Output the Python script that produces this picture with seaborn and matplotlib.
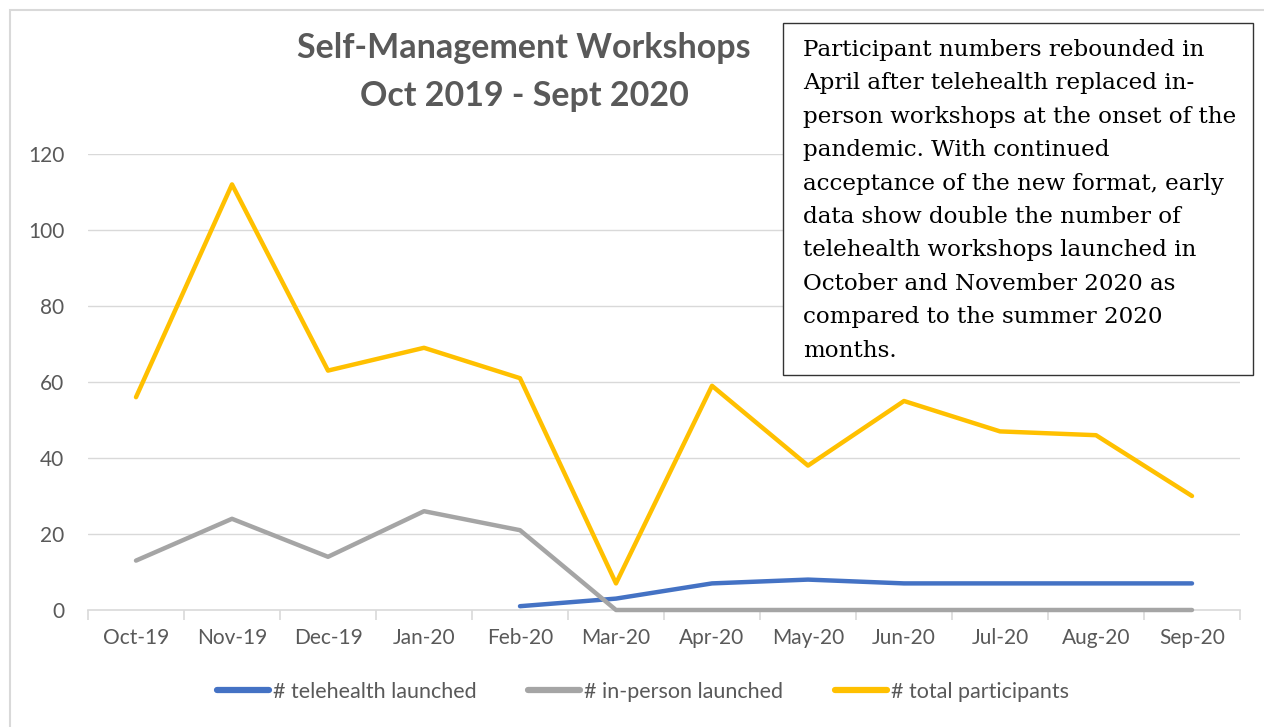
import numpy as np
import pandas as pd
import matplotlib
matplotlib.use("Agg")
import matplotlib.pyplot as plt
import matplotlib.patches as mpatches
import seaborn as sns

months = ["Oct-19", "Nov-19", "Dec-19", "Jan-20", "Feb-20", "Mar-20",
          "Apr-20", "May-20", "Jun-20", "Jul-20", "Aug-20", "Sep-20"]
telehealth = [np.nan, np.nan, np.nan, np.nan, 1, 3, 7, 8, 7, 7, 7, 7]
in_person = [13, 24, 14, 26, 21, 0, 0, 0, 0, 0, 0, 0]
total = [56, 112, 63, 69, 61, 7, 59, 38, 55, 47, 46, 30]
series_names = ["# telehealth launched", "# in-person launched", "# total participants"]
colors = ["#4472C4", "#A5A5A5", "#FFC000"]
y_ticks = [0, 20, 40, 60, 80, 100, 120]

title = "Self-Management Workshops\nOct 2019 - Sept 2020"
note = ("Participant numbers rebounded in\n"
        "April after telehealth replaced in-\n"
        "person workshops at the onset of the\n"
        "pandemic. With continued\n"
        "acceptance of the new format, early\n"
        "data show double the number of\n"
        "telehealth workshops launched in\n"
        "October and November 2020 as\n"
        "compared to the summer 2020\n"
        "months.")

sns.set_theme(style="white")
plt.rcParams['font.family'] = ['Lato', 'DejaVu Sans']

W, H = 1264, 727
fig = plt.figure(figsize=(W / 100, H / 100), dpi=100)
ax = fig.add_axes([88 / W, (H - 610) / H, (1240 - 88) / W, (610 - 154) / H])

df = pd.DataFrame({"x": np.arange(len(months)), series_names[0]: telehealth,
                   series_names[1]: in_person, series_names[2]: total})
for name, c in zip(series_names, colors):
    sub = df[["x", name]].dropna()
    sns.lineplot(data=sub, x="x", y=name, ax=ax, color=c, linewidth=3.2,
                 label=name, solid_capstyle="round", solid_joinstyle="round",
                 clip_on=False, zorder=4)

ax.set_xlim(-0.5, len(months) - 0.5)
ax.set_ylim(0, 120)
ax.set_yticks(y_ticks)
ax.set_yticklabels([str(v) for v in y_ticks])
ax.set_xticks(range(len(months)))
ax.set_xticklabels(months)
ax.set_xlabel("")
ax.set_ylabel("")
for v in y_ticks[1:]:
    ax.axhline(v, color="#D9D9D9", lw=1.0, zorder=0)
for s in ["top", "right", "left"]:
    ax.spines[s].set_visible(False)
ax.spines["bottom"].set_color("#D9D9D9")
ax.spines["bottom"].set_linewidth(1.2)
ax.spines["bottom"].set_zorder(1)
ax.tick_params(axis="x", length=0, pad=13, labelsize=15, labelcolor="#595959")
ax.tick_params(axis="y", length=0, pad=17, labelsize=15, labelcolor="#595959")
ax.set_xticks(np.arange(-0.5, len(months), 1.0), minor=True)
ax.tick_params(axis="x", which="minor", length=7, color="#D9D9D9", width=1.2, bottom=True)

leg = ax.legend(loc="center", bbox_to_anchor=(643 / W, (H - 692) / H),
                bbox_transform=fig.transFigure, ncol=3, frameon=False,
                fontsize=15.5, handlelength=2.4, handletextpad=0.2, columnspacing=2.4,
                labelcolor="#595959")
for h in leg.get_lines():
    h.set_linewidth(4.5)
    h.set_solid_capstyle("round")

fig.text(524 / W, 1 - 72 / H, title, ha="center", va="center", fontsize=24.5,
         fontweight="bold", color="#595959", linespacing=1.6)

fig.patches.append(mpatches.Rectangle((10 / W, -0.05), 1.2, 1 - 10 / H + 0.05,
                                      transform=fig.transFigure, fill=False,
                                      edgecolor="#D9D9D9", lw=1.5))
fig.patches.append(mpatches.Rectangle((783 / W, 1 - 375 / H), (1253 - 783) / W,
                                      (375 - 23) / H, transform=fig.transFigure,
                                      facecolor="white", edgecolor="#333333", lw=1.0,
                                      zorder=5))
fig.text(803 / W, 1 - 39 / H, note, ha="left", va="top", fontsize=16.6,
         family="DejaVu Serif", color="black", linespacing=1.67, zorder=6)

fig.savefig("out.png", dpi=100)
